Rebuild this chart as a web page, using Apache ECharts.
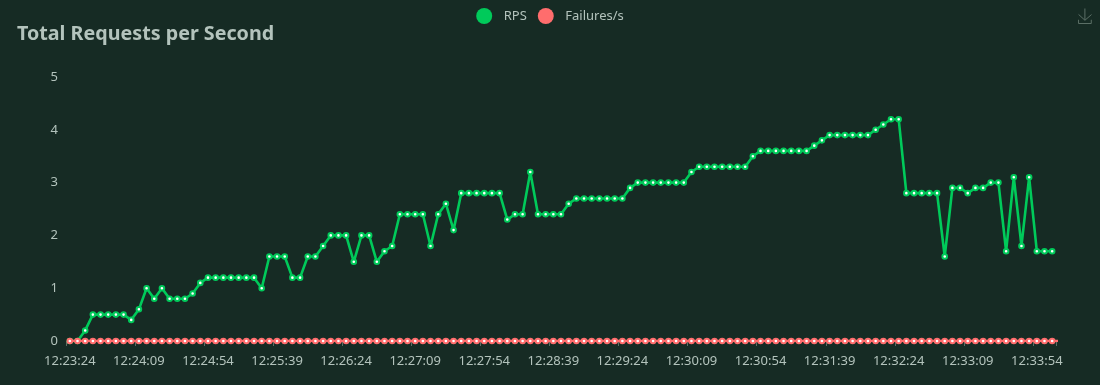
<!DOCTYPE html>
<html>
<head>
<meta charset="utf-8">
<style>html,body{margin:0;padding:0;background:#162b24;}#c{width:1100px;height:385px;}</style>
<script src="https://cdn.jsdelivr.net/npm/echarts@6/dist/echarts.min.js"></script>
</head>
<body>
<div id="c"></div>
<script>
const categories = [
"12:23:24","12:23:29","12:23:34","12:23:39","12:23:44","12:23:49","12:23:54","12:23:59","12:24:04",
"12:24:09","12:24:14","12:24:19","12:24:24","12:24:29","12:24:34","12:24:39","12:24:44","12:24:49",
"12:24:54","12:24:59","12:25:04","12:25:09","12:25:14","12:25:19","12:25:24","12:25:29","12:25:34",
"12:25:39","12:25:44","12:25:49","12:25:54","12:25:59","12:26:04","12:26:09","12:26:14","12:26:19",
"12:26:24","12:26:29","12:26:34","12:26:39","12:26:44","12:26:49","12:26:54","12:26:59","12:27:04",
"12:27:09","12:27:14","12:27:19","12:27:24","12:27:29","12:27:34","12:27:39","12:27:44","12:27:49",
"12:27:54","12:27:59","12:28:04","12:28:09","12:28:14","12:28:19","12:28:24","12:28:29","12:28:34",
"12:28:39","12:28:44","12:28:49","12:28:54","12:28:59","12:29:04","12:29:09","12:29:14","12:29:19",
"12:29:24","12:29:29","12:29:34","12:29:39","12:29:44","12:29:49","12:29:54","12:29:59","12:30:04",
"12:30:09","12:30:14","12:30:19","12:30:24","12:30:29","12:30:34","12:30:39","12:30:44","12:30:49",
"12:30:54","12:30:59","12:31:04","12:31:09","12:31:14","12:31:19","12:31:24","12:31:29","12:31:34",
"12:31:39","12:31:44","12:31:49","12:31:54","12:31:59","12:32:04","12:32:09","12:32:14","12:32:19",
"12:32:24","12:32:29","12:32:34","12:32:39","12:32:44","12:32:49","12:32:54","12:32:59","12:33:04",
"12:33:09","12:33:14","12:33:19","12:33:24","12:33:29","12:33:34","12:33:39","12:33:44","12:33:49",
"12:33:54","12:33:59","12:34:04"];
const rps = [
0,0,0.2,0.5,0.5,0.5,0.5,0.5,0.4,
0.6,1,0.8,1,0.8,0.8,0.8,0.9,1.1,
1.2,1.2,1.2,1.2,1.2,1.2,1.2,1,1.6,
1.6,1.6,1.2,1.2,1.6,1.6,1.8,2,2,
2,1.5,2,2,1.5,1.7,1.8,2.4,2.4,
2.4,2.4,1.8,2.4,2.6,2.1,2.8,2.8,2.8,
2.8,2.8,2.8,2.3,2.4,2.4,3.2,2.4,2.4,
2.4,2.4,2.6,2.7,2.7,2.7,2.7,2.7,2.7,
2.7,2.9,3,3,3,3,3,3,3,
3.2,3.3,3.3,3.3,3.3,3.3,3.3,3.3,3.5,
3.6,3.6,3.6,3.6,3.6,3.6,3.6,3.7,3.8,
3.9,3.9,3.9,3.9,3.9,3.9,4,4.1,4.2,
4.2,2.8,2.8,2.8,2.8,2.8,1.6,2.9,2.9,
2.8,2.9,2.9,3,3,1.7,3.1,1.8,3.1,
1.7,1.7,1.7];
const failures = [
0,0,0,0,0,0,0,0,0,0,0,0,0,0,0,0,0,0,0,0,0,0,0,0,0,0,0,0,0,0,0,0,0,
0,0,0,0,0,0,0,0,0,0,0,0,0,0,0,0,0,0,0,0,0,0,0,0,0,0,0,0,0,0,0,0,0,
0,0,0,0,0,0,0,0,0,0,0,0,0,0,0,0,0,0,0,0,0,0,0,0,0,0,0,0,0,0,0,0,0,
0,0,0,0,0,0,0,0,0,0,0,0,0,0,0,0,0,0,0,0,0,0,0,0,0,0,0,0,0,0,0];
const yTicks = {min:0,max:5,interval:1};
const text = '#b3c3bc';
const font = '"Noto Sans"';
const chart = echarts.init(document.getElementById('c'),null,{renderer:'canvas'});
chart.setOption({
  animation:false,
  backgroundColor:'#162b24',
  color:['#00ca5a','#ff6d6d'],
  textStyle:{fontFamily:font},
  title:{text:'Total Requests per Second',left:12,top:19,textStyle:{color:text,fontSize:19.7,fontWeight:'bold',fontFamily:font}},
  legend:{show:true,icon:'circle',top:3,left:'center',itemHeight:16,itemGap:11,textStyle:{color:text,fontSize:13,fontFamily:font,padding:[0,0,0,2]}},
  toolbox:{show:true,right:-9,top:-9,feature:{saveAsImage:{title:'',iconStyle:{borderColor:'#5b6f66'}}}},
  grid:{left:66,right:44,top:77,bottom:44},
  xAxis:{type:'category',data:categories,boundaryGap:true,
    axisLine:{show:false},
    axisTick:{show:true,lineStyle:{color:'#5b6f66'}},
    axisLabel:{interval:8,color:text,fontSize:13,fontFamily:font,margin:14,hideOverlap:false},
    splitLine:{show:false}},
  yAxis:{type:'value',min:yTicks.min,max:yTicks.max,interval:yTicks.interval,
    axisLine:{show:false},axisTick:{show:false},
    axisLabel:{color:text,fontSize:13,fontFamily:font,margin:8},
    splitLine:{show:false}},
  series:[
    {name:'RPS',type:'line',data:rps,symbol:'emptyCircle',symbolSize:4.6,showSymbol:true,showAllSymbol:true,lineStyle:{width:2.6},itemStyle:{borderWidth:3.4},z:2},
    {name:'Failures/s',type:'line',data:failures,symbol:'emptyCircle',symbolSize:4.6,showSymbol:true,showAllSymbol:true,lineStyle:{width:2.6},itemStyle:{borderWidth:3.4},z:3}
  ]
});
</script>
</body>
</html>
